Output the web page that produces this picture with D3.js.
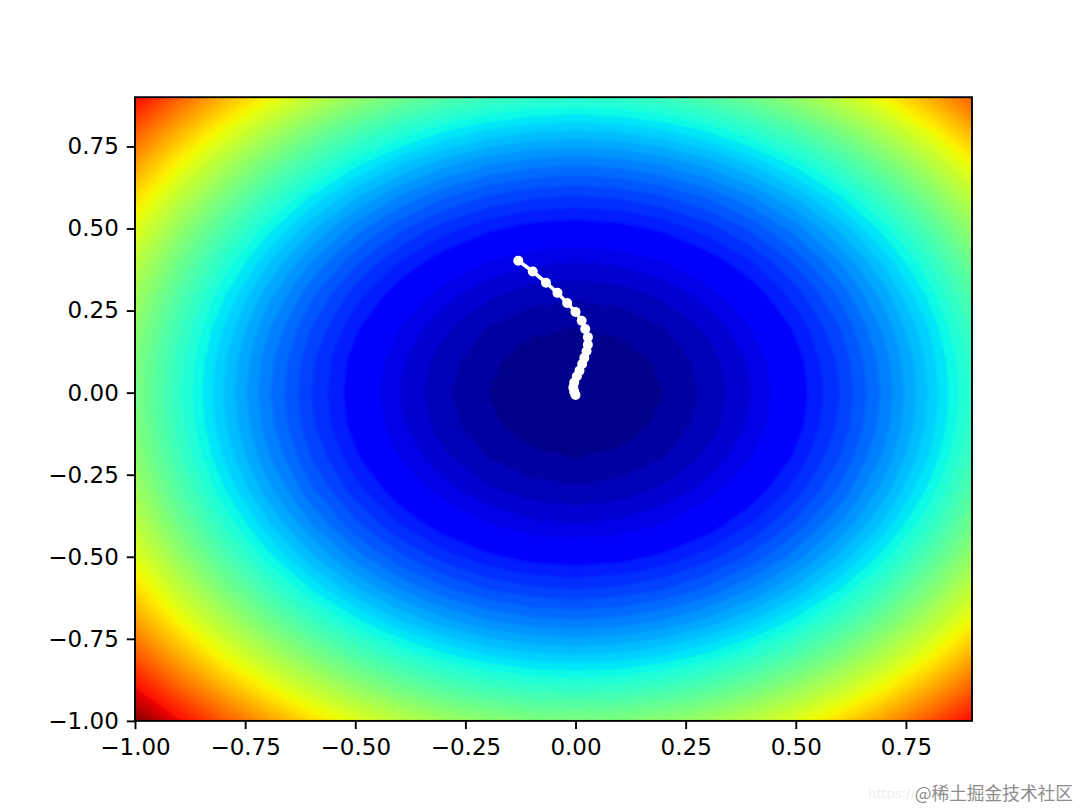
<!DOCTYPE html>
<html>
<head>
<meta charset="utf-8">
<script src="https://cdn.jsdelivr.net/npm/d3@7"></script>
<style>
html,body{margin:0;padding:0;background:#fff}
svg{display:block}
text{font-family:"DejaVu Sans",sans-serif}
</style>
</head>
<body>
<svg id="chart" width="1080" height="810"></svg>
<script>
// Axis ticks
const tickValues = [-1, -0.75, -0.5, -0.25, 0, 0.25, 0.5, 0.75];
const tickLabels = ["\u22121.00", "\u22120.75", "\u22120.50", "\u22120.25", "0.00", "0.25", "0.50", "0.75"];

// Surface samples: columns run x = -1.0 .. 0.9, rows run y = -1.0 .. 0.9
const gridX = [-1, -0.9, -0.8, -0.7, -0.6, -0.5, -0.4, -0.3, -0.2, -0.1, 0, 0.1, 0.2, 0.3, 0.4, 0.5, 0.6, 0.7, 0.8, 0.9];
const gridY = [-1, -0.9, -0.8, -0.7, -0.6, -0.5, -0.4, -0.3, -0.2, -0.1, 0, 0.1, 0.2, 0.3, 0.4, 0.5, 0.6, 0.7, 0.8, 0.9];
const gridZ = [
  2.00,1.81,1.64,1.49,1.36,1.25,1.16,1.09,1.04,1.01,1.00,1.01,1.04,1.09,1.16,1.25,1.36,1.49,1.64,1.81,
  1.81,1.62,1.45,1.30,1.17,1.06,0.97,0.90,0.85,0.82,0.81,0.82,0.85,0.90,0.97,1.06,1.17,1.30,1.45,1.62,
  1.64,1.45,1.28,1.13,1.00,0.89,0.80,0.73,0.68,0.65,0.64,0.65,0.68,0.73,0.80,0.89,1.00,1.13,1.28,1.45,
  1.49,1.30,1.13,0.98,0.85,0.74,0.65,0.58,0.53,0.50,0.49,0.50,0.53,0.58,0.65,0.74,0.85,0.98,1.13,1.30,
  1.36,1.17,1.00,0.85,0.72,0.61,0.52,0.45,0.40,0.37,0.36,0.37,0.40,0.45,0.52,0.61,0.72,0.85,1.00,1.17,
  1.25,1.06,0.89,0.74,0.61,0.50,0.41,0.34,0.29,0.26,0.25,0.26,0.29,0.34,0.41,0.50,0.61,0.74,0.89,1.06,
  1.16,0.97,0.80,0.65,0.52,0.41,0.32,0.25,0.20,0.17,0.16,0.17,0.20,0.25,0.32,0.41,0.52,0.65,0.80,0.97,
  1.09,0.90,0.73,0.58,0.45,0.34,0.25,0.18,0.13,0.10,0.09,0.10,0.13,0.18,0.25,0.34,0.45,0.58,0.73,0.90,
  1.04,0.85,0.68,0.53,0.40,0.29,0.20,0.13,0.08,0.05,0.04,0.05,0.08,0.13,0.20,0.29,0.40,0.53,0.68,0.85,
  1.01,0.82,0.65,0.50,0.37,0.26,0.17,0.10,0.05,0.02,0.01,0.02,0.05,0.10,0.17,0.26,0.37,0.50,0.65,0.82,
  1.00,0.81,0.64,0.49,0.36,0.25,0.16,0.09,0.04,0.01,0.00,0.01,0.04,0.09,0.16,0.25,0.36,0.49,0.64,0.81,
  1.01,0.82,0.65,0.50,0.37,0.26,0.17,0.10,0.05,0.02,0.01,0.02,0.05,0.10,0.17,0.26,0.37,0.50,0.65,0.82,
  1.04,0.85,0.68,0.53,0.40,0.29,0.20,0.13,0.08,0.05,0.04,0.05,0.08,0.13,0.20,0.29,0.40,0.53,0.68,0.85,
  1.09,0.90,0.73,0.58,0.45,0.34,0.25,0.18,0.13,0.10,0.09,0.10,0.13,0.18,0.25,0.34,0.45,0.58,0.73,0.90,
  1.16,0.97,0.80,0.65,0.52,0.41,0.32,0.25,0.20,0.17,0.16,0.17,0.20,0.25,0.32,0.41,0.52,0.65,0.80,0.97,
  1.25,1.06,0.89,0.74,0.61,0.50,0.41,0.34,0.29,0.26,0.25,0.26,0.29,0.34,0.41,0.50,0.61,0.74,0.89,1.06,
  1.36,1.17,1.00,0.85,0.72,0.61,0.52,0.45,0.40,0.37,0.36,0.37,0.40,0.45,0.52,0.61,0.72,0.85,1.00,1.17,
  1.49,1.30,1.13,0.98,0.85,0.74,0.65,0.58,0.53,0.50,0.49,0.50,0.53,0.58,0.65,0.74,0.85,0.98,1.13,1.30,
  1.64,1.45,1.28,1.13,1.00,0.89,0.80,0.73,0.68,0.65,0.64,0.65,0.68,0.73,0.80,0.89,1.00,1.13,1.28,1.45,
  1.81,1.62,1.45,1.30,1.17,1.06,0.97,0.90,0.85,0.82,0.81,0.82,0.85,0.90,0.97,1.06,1.17,1.30,1.45,1.62
];

// Filled-contour band edges
const levels = [0,0.04,0.08,0.12,0.16,0.2,0.24,0.28,0.32,0.36,0.4,0.44,0.48,0.52,0.56,0.6,0.64,0.68,0.72,0.76,0.8,
  0.84,0.88,0.92,0.96,1,1.04,1.08,1.12,1.16,1.2,1.24,1.28,1.32,1.36,1.4,1.44,1.48,1.52,1.56,1.6,
  1.64,1.68,1.72,1.76,1.8,1.84,1.88,1.92,1.96,2];

// White descent path
const pathX = [-0.130,-0.097,-0.067,-0.041,-0.019,0.000,0.014,0.022,0.028,0.028,0.025,0.020,0.015,0.009,0.003,-0.003,-0.005,-0.003,0.000];
const pathY = [0.402,0.369,0.335,0.304,0.273,0.246,0.219,0.194,0.169,0.146,0.126,0.106,0.087,0.067,0.050,0.031,0.016,0.003,-0.007];

// Colormap anchors (jet)
const jetRedT = [0,0.35,0.66,0.89,1],    jetRedV = [0,0,1,1,0.5];
const jetGreenT = [0,0.125,0.375,0.64,0.91,1], jetGreenV = [0,0,1,1,0,0];
const jetBlueT = [0,0.11,0.34,0.65,1],   jetBlueV = [0.5,1,1,0,0];

const M = {left:135, right:972, top:97.2, bottom:720.9};
const svg = d3.select("#chart");
const x = d3.scaleLinear().domain([-1,0.9]).range([M.left,M.right]);
const y = d3.scaleLinear().domain([-1,0.9]).range([M.bottom,M.top]);
const r = d3.scaleLinear().domain(jetRedT).range(jetRedV);
const g = d3.scaleLinear().domain(jetGreenT).range(jetGreenV);
const b = d3.scaleLinear().domain(jetBlueT).range(jetBlueV);
const norm = d3.scaleLinear().domain(d3.extent(levels)).range([0,1]);
const jet = t => `rgb(${Math.round(255*r(t))},${Math.round(255*g(t))},${Math.round(255*b(t))})`;

const defs = svg.append("defs");
defs.append("clipPath").attr("id","axclip").append("rect")
  .attr("x",M.left).attr("y",M.top).attr("width",M.right-M.left).attr("height",M.bottom-M.top);
defs.append("filter").attr("id","soft").attr("filterUnits","userSpaceOnUse")
  .attr("x",0).attr("y",0).attr("width",1080).attr("height",810)
  .append("feGaussianBlur").attr("stdDeviation",1.6);
defs.append("filter").attr("id","softLine").attr("filterUnits","userSpaceOnUse")
  .attr("x",0).attr("y",0).attr("width",1080).attr("height",810)
  .append("feGaussianBlur").attr("stdDeviation",0.6);

// contour coordinates: grid index i sits at i + 0.5
const ix = d3.scaleLinear().domain([0.5,gridX.length-0.5]).range([gridX[0],gridX[gridX.length-1]]);
const iy = d3.scaleLinear().domain([0.5,gridY.length-0.5]).range([gridY[0],gridY[gridY.length-1]]);
const proj = d3.geoTransform({point(px,py){ this.stream.point(x(ix(px)), y(iy(py))); }});
const geo = d3.geoPath(proj);
const contours = d3.contours().size([gridX.length,gridY.length]).smooth(true);

const bands = levels.slice(0,-1).map((lo,i)=>({lo,mid:(lo+levels[i+1])/2}));
svg.append("g").attr("clip-path","url(#axclip)")
  .append("g").attr("filter","url(#soft)")
  .selectAll("path").data(bands).join("path")
  .attr("d",d=>geo(contours.contour(gridZ,d.lo)))
  .attr("fill",d=>jet(norm(d.mid)));

// Path
const pts = pathX.map((v,i)=>[v,pathY[i]]);
const pg = svg.append("g").attr("clip-path","url(#axclip)").append("g").attr("filter","url(#softLine)");
pg.append("path").attr("d",d3.line().x(d=>x(d[0])).y(d=>y(d[1]))(pts))
  .attr("fill","none").attr("stroke","#fff").attr("stroke-width",3.6);
pg.selectAll("circle").data(pts).join("circle")
  .attr("cx",d=>x(d[0])).attr("cy",d=>y(d[1])).attr("r",5).attr("fill","#fff");

// Axes
const fmt = v => tickLabels[tickValues.indexOf(v)];
const styleAxis = sel => {
  sel.selectAll(".domain").remove();
  sel.selectAll("line").attr("stroke","#000").attr("stroke-width",1.9);
  sel.selectAll("text").attr("fill","#000").style("font-size","23px").style("font-family",'"DejaVu Sans"');
};
svg.append("g").attr("transform",`translate(0,${M.bottom})`)
  .call(d3.axisBottom(x).tickValues(tickValues).tickFormat(fmt).tickSize(8.2).tickPadding(9.5)).call(styleAxis);
svg.append("g").attr("transform",`translate(${M.left},0)`)
  .call(d3.axisLeft(y).tickValues(tickValues).tickFormat(fmt).tickSize(8.2).tickPadding(8)).call(styleAxis);
svg.append("rect").attr("x",M.left).attr("y",M.top).attr("width",M.right-M.left).attr("height",M.bottom-M.top)
  .attr("fill","none").attr("stroke","#000").attr("stroke-width",1.9);

// Watermark
svg.append("text").attr("x",868).attr("y",798).attr("fill","#eeeeee")
  .style("font-size","13px").style("font-family",'"DejaVu Sans"').text("https://");
svg.append("text").attr("x",1073).attr("y",799.5).attr("text-anchor","end").attr("fill","#8c8c8c")
  .style("font-size","17.7px").style("font-family",'"Noto Sans CJK SC"').text("@稀土掘金技术社区");
</script>
</body>
</html>
